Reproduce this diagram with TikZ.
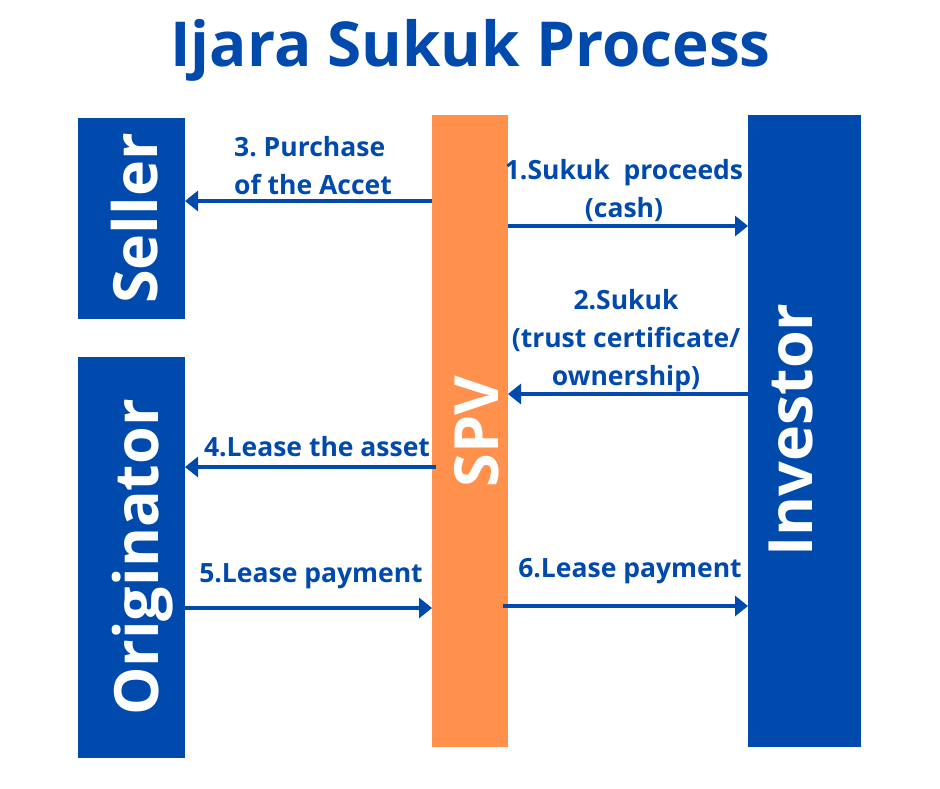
\documentclass[tikz,border=0pt]{standalone}
\usepackage{fontspec}
\setmainfont{Open Sans}
\usetikzlibrary{arrows.meta}
\definecolor{cblue}{HTML}{004AAD}
\definecolor{corange}{HTML}{FF914D}
\frenchspacing
\begin{document}
\begin{tikzpicture}[x=1pt,y=-1pt,
  bluebox/.style={fill=cblue, draw=none, inner sep=0pt, outer sep=0pt},
  orangebox/.style={fill=corange, draw=none, inner sep=0pt, outer sep=0pt},
  boxtext/.style={text=white, font=\bfseries\fontsize{61}{70}\selectfont, rotate=90, anchor=base, inner sep=0pt},
  lbl/.style={text=cblue, font=\bfseries\fontsize{26.5}{38}\selectfont, inner sep=0pt, align=center},
  arr/.style={draw=cblue, line width=4.5pt, -{Triangle[width=20pt,length=13pt]}},
]
\useasboundingbox[fill=white] (0,0) rectangle (940,788);
% title
\node[text=cblue, font=\bfseries\fontsize{62}{70}\selectfont, anchor=base, inner sep=0pt] (title) at (470.5,66) {Ijara Sukuk Process};
% boxes
\node[bluebox, minimum width=107pt, minimum height=201pt] (seller) at (131.5,218.5) {};
\node[bluebox, minimum width=107pt, minimum height=401pt] (orig) at (131.5,557.5) {};
\node[orangebox, minimum width=76pt, minimum height=632pt] (spv) at (470,431) {};
\node[bluebox, minimum width=113pt, minimum height=632pt] (inv) at (804.5,431) {};
% box texts
\node[boxtext] (sellerT) at (157,218.5) {Seller};
\node[boxtext] (origT) at (158,557.5) {Originator};
\node[boxtext] (spvT) at (498,431.5) {SPV};
\node[boxtext] (invT) at (812,430) {Investor};
% arrow levels
\coordinate (l3) at (0,201);
\coordinate (l1) at (0,226);
\coordinate (l2) at (0,394);
\coordinate (l4) at (0,467);
\coordinate (l5) at (0,608);
\coordinate (l6) at (0,606);
% arrows
\draw[arr] (spv.west |- l3) -- (seller.east |- l3);
\draw[arr] (spv.east |- l1) -- (inv.west |- l1);
\draw[arr] (inv.west |- l2) -- (spv.east |- l2);
\draw[arr] ([xshift=4pt]spv.west |- l4) -- (orig.east |- l4);
\draw[arr] (orig.east |- l5) -- (spv.west |- l5);
\draw[arr] ([xshift=-5pt]spv.east |- l6) -- (inv.west |- l6);
% labels
\node[lbl, align=left, anchor=west] (t3) at (234,165.5) {3. Purchase\\of the Accet};
\node[lbl] (t1) at (624,191) {1.Sukuk~ proceeds\\(cash)};
\node[lbl] (t2) at (626,341) {2.Sukuk\\(trust certificate/\\ownership)};
\node[lbl] (t4) at (317,447) {4.Lease the asset};
\node[lbl] (t5) at (311,576) {5.Lease payment};
\node[lbl] (t6) at (630,571) {6.Lease payment};
\end{tikzpicture}
\end{document}
